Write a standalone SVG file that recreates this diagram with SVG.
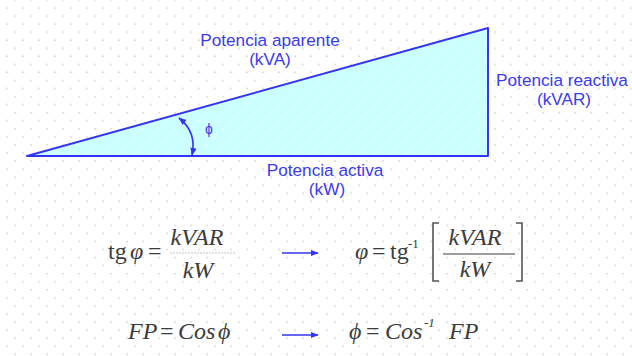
<svg xmlns="http://www.w3.org/2000/svg" width="632" height="356" viewBox="0 0 632 356">
  <style>
    .lbl { font-family: "Liberation Sans", Arial, sans-serif; font-size: 17.2px; fill: #3a3af0; text-anchor: middle; }
    .m { font-family: "Liberation Serif", "Times New Roman", serif; font-size: 24px; fill: #3c3c3c; }
    .i { font-style: italic; }
    .sup { font-family: "Liberation Serif", "Times New Roman", serif; font-size: 13px; fill: #3c3c3c; }
    .conn { stroke: #3535f5; stroke-width: 1.6; fill: none; }
  </style>
  <defs>
    <pattern id="dots" x="0" y="4" width="16" height="16.1" patternUnits="userSpaceOnUse">
      <circle cx="7" cy="4" r="0.9" fill="#d4d4d4"/>
      <circle cx="15" cy="12.05" r="0.9" fill="#d4d4d4"/>
    </pattern>
    <pattern id="dotsTri" x="0" y="4" width="16" height="16.1" patternUnits="userSpaceOnUse">
      <rect width="16" height="16.1" fill="#ccffff"/>
      <circle cx="7" cy="4" r="0.9" fill="#f4ffff"/>
      <circle cx="15" cy="12.05" r="0.9" fill="#f4ffff"/>
    </pattern>
    <marker id="ah" viewBox="0 0 10 10" refX="9" refY="5" markerWidth="8" markerHeight="8" markerUnits="userSpaceOnUse" orient="auto-start-reverse">
      <path d="M0,1 L10,5 L0,9 Z" fill="#3535f5"/>
    </marker>
  </defs>
  <rect width="632" height="356" fill="#ffffff"/>
  <rect width="632" height="356" fill="url(#dots)"/>

  <g id="triangle">
    <polygon points="27,156 488,28 488,156" fill="url(#dotsTri)" stroke="#3535f5" stroke-width="2" stroke-linejoin="round"/>
  </g>

  <g id="label-aparente">
    <text class="lbl" x="270" y="45.5">Potencia aparente<tspan x="270" dy="19.5">(kVA)</tspan></text>
  </g>
  <g id="label-reactiva">
    <text class="lbl" x="562" y="85.5">Potencia reactiva<tspan x="564" dy="19.5">(kVAR)</tspan></text>
  </g>
  <g id="label-activa">
    <text class="lbl" x="325" y="175.5">Potencia activa<tspan x="327" dy="19.5">(kW)</tspan></text>
  </g>
  <g id="label-phi">
    <text x="209" y="134" style="font-family:'Liberation Sans',Arial,sans-serif;font-size:14px;fill:#3a3af0;text-anchor:middle">ϕ</text>
  </g>

  <g id="connectors">
    <path class="conn" d="M179,118 Q197,132 192,155" marker-start="url(#ah)" marker-end="url(#ah)"/>
    <line class="conn" x1="282" y1="253" x2="318" y2="253" marker-end="url(#ah)"/>
    <line class="conn" x1="282" y1="335" x2="318" y2="335" marker-end="url(#ah)"/>
  </g>

  <g id="formula-tg">
    <text class="m" x="108" y="259">tg</text>
    <text class="m i" x="130" y="259">φ</text>
    <text class="m" x="148" y="259">=</text>
    <text class="m i" x="197" y="245" text-anchor="middle">kVAR</text>
    <line x1="170" y1="253" x2="236" y2="253" stroke="#c4c4c4" stroke-width="1" stroke-dasharray="2 1"/>
    <text class="m i" x="198" y="278" text-anchor="middle">kW</text>
  </g>

  <g id="formula-arctg">
    <text class="m i" x="355" y="259">φ</text>
    <text class="m" x="372" y="259">=</text>
    <text class="m" x="390" y="259">tg</text>
    <text class="sup" x="408" y="248">-1</text>
    <path d="M439,223 H433 V281 H439" fill="none" stroke="#555" stroke-width="1.6"/>
    <text class="m i" x="475" y="245" text-anchor="middle">kVAR</text>
    <line x1="443" y1="254" x2="515" y2="254" stroke="#3c3c3c" stroke-width="1.2"/>
    <text class="m i" x="475" y="277" text-anchor="middle">kW</text>
    <path d="M516,223 H522 V281 H516" fill="none" stroke="#555" stroke-width="1.6"/>
  </g>

  <g id="formula-fp">
    <text class="m i" x="128" y="339">FP</text>
    <text class="m" x="160" y="339">=</text>
    <text class="m i" x="178" y="339">Cos</text>
    <text class="m i" x="218" y="339">ϕ</text>
  </g>

  <g id="formula-arccos">
    <text class="m i" x="349" y="339">ϕ</text>
    <text class="m" x="366" y="339">=</text>
    <text class="m i" x="385" y="339">Cos</text>
    <text class="sup i" x="424" y="327">-1</text>
    <text class="m i" x="449" y="339">FP</text>
  </g>
</svg>
